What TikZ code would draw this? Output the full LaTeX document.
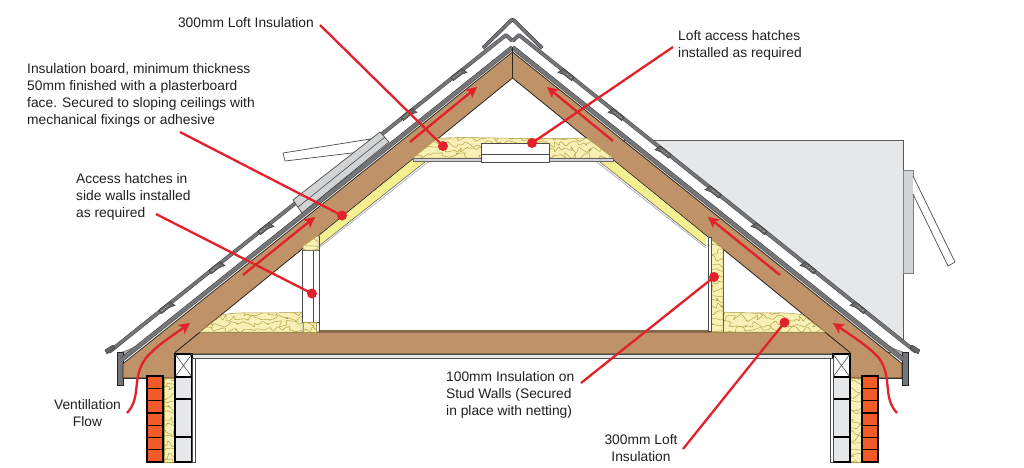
\documentclass[tikz,border=0pt]{standalone}
\usepackage{fontspec}
\setmainfont{Liberation Sans}
\usetikzlibrary{arrows.meta,decorations.pathmorphing}
\definecolor{rafterbrown}{HTML}{BF9367}
\definecolor{woolyellow}{HTML}{F8F0B4}
\definecolor{woolline}{HTML}{AE9C42}
\definecolor{boardyellow}{HTML}{F5F08F}
\definecolor{slategrey}{HTML}{75767A}
\definecolor{gablegrey}{HTML}{E6E7E9}
\definecolor{lightgrey}{HTML}{D1D3D4}
\definecolor{brickorange}{HTML}{F15A29}
\definecolor{arrowred}{HTML}{E3212B}
\definecolor{inktext}{HTML}{231F20}
\newcommand{\woolfill}[5]{
  \fill[woolyellow] #1;
  \begin{scope}
    \clip #1;
    \foreach \rowy in {#4,...,#5}
      \draw[squiggle] (#2,\rowy*6) -- (#3,\rowy*6);
  \end{scope}
  \draw[woolline,line width=.5pt] #1;
}
\begin{document}
\begin{tikzpicture}[
      x=1pt, y=-1pt,
      timber/.style = {draw=black!85, line width=.8pt, fill=rafterbrown},
      squiggle/.style = {draw=woolline, line width=.45pt, decorate, rounded corners=1pt,
        decoration={random steps, segment length=3.6pt, amplitude=4pt}},
      tilelayer/.style = {draw=slategrey, line width=2.8pt, line join=round},
      tileedge/.style = {draw=black!75, line width=3.8pt, line join=round},
      batten/.style = {fill=black!60, draw=black!80, line width=.4pt},
      brick/.style = {draw=black, line width=1.3pt, fill=brickorange},
      block/.style = {draw=black, line width=1.3pt, fill=gablegrey},
      thinwall/.style = {draw=black!70, line width=.6pt, fill=white},
      note/.style = {text=inktext, inner sep=0pt, align=left, font=\fontsize{13.8}{17}\selectfont},
      dot/.style = {shape=circle, fill=arrowred, inner sep=0pt, minimum size=10pt},
      callout/.style = {draw=arrowred, line width=2.3pt},
      flow/.style = {draw=arrowred, line width=2.3pt, -{Stealth[length=11pt,width=11pt,inset=3pt]}}
    ]
      \useasboundingbox (0,0) rectangle (1024,467);
      \fill[white] (0,0) rectangle (1024,467);

      \draw[fill=gablegrey, draw=black!65, line width=.8pt] (620,145) -- (620,140) -- (903,140) -- (903,352) -- (885,352);
      \draw[fill=lightgrey, draw=black!50, line width=.6pt] (903,170) rectangle (913,273);
      \draw[fill=white, draw=black!70, line width=.7pt] (913,176) -- (955,262) -- (948,266) -- (913,194);

      \draw[timber] (175,354) -- (850,354) -- (850,352) -- (825,332) -- (200,332) -- (175,352) -- cycle;
      \draw[draw=black!70, line width=.7pt, fill=gablegrey] (192,354.5) rectangle (833,358);
      \fill[rafterbrown!70!black] (319,330) rectangle (708,332);

      \foreach \flip/\off in {1/0,-1/1025} {
        \begin{scope}[xshift=\off pt, xscale=\flip]
          \fill[white] (506,37) -- (512.5,42) -- (512.5,48) -- (122,360) -- (112,352) -- cycle;
          \draw[draw=black!60, fill=slategrey!60, line width=.5pt] (122,352) .. controls (140,347) and (155,333) .. (178,314) -- (122,359) -- cycle;
          \draw[fill=slategrey, draw=black!85, line width=.6pt] (117,352) rectangle (123,385);
          \draw[draw=black!85, line width=1.8pt] (123,378) -- (147,378);
          \draw[timber] (512.5,52) -- (123,363.6) -- (123,378) -- (175,378) -- (175,352.4) -- (512.5,78) -- cycle;
          \draw[draw=black!75, line width=4.6pt] (122,359.4) -- (512.5,47.4);
          \draw[draw=slategrey, line width=3.6pt] (122,359.4) -- (512.5,47.4);
          \draw[tileedge] (109,352) -- (506,35) -- (512.5,41);
          \draw[tilelayer] (109,352) -- (506,35) -- (512.5,41);
          \draw[batten] (105,350) -- (113,345) -- (115,348) -- (107,354) -- cycle;
          \foreach \bx in {165,215,264,310,360,407,457} {
            \pgfmathsetmacro{\by}{35+.798*(506-\bx)}
            \begin{scope}[shift={(\bx,\by)}, rotate=38.6]
              \draw[batten] (-7,-1.5) -- (7,-1.5) -- (9,5) -- (3,3) -- (-7,3) -- cycle;
              \draw[white, line width=.5pt, dash pattern=on 1pt off 1.5pt] (-5,.8) -- (5,.8);
            \end{scope}
          }
          \fill[boardyellow] (319,236) -- (424,150.5) -- (430,158) -- (319,246) -- cycle;
          \draw[draw=black!60, line width=.6pt] (319,246) -- (430,158);
          \draw[draw=black!35, line width=.6pt] (319,248) -- (432,159);
          \woolfill{(200,332) -- (222,315) .. controls (240,311) and (270,314) .. (302,312) -- (302,332) -- cycle}{195}{305}{52}{55}
          \fill[black!55] (162.5,376) rectangle (164,462);
          \woolfill{(164,378) rectangle (175,462)}{160}{178}{63}{77}
          \foreach \i in {0,...,6}
            \draw[brick] (147,{376+\i*12.3}) rectangle (163,{388.3+\i*12.3});
          \draw[block, fill=white] (175,354) rectangle (192,377);
          \draw[draw=black!70, line width=.6pt] (175,354) -- (192,377) (192,354) -- (175,377);
          \draw[block] (175,377) rectangle (192,399);
          \draw[block] (175,399) rectangle (192,437);
          \draw[block] (175,437) rectangle (192,462);
          \draw[thinwall] (192,358) rectangle (195,462);
        \end{scope}
      }

      \draw[fill=white, draw=black!70, line width=.7pt] (283,153) -- (370,139) -- (360,152) -- (285,161) -- cycle;
      \draw[fill=lightgrey, draw=black!70, line width=.7pt] (293,200) -- (380,132) -- (389,142) -- (302,213) -- cycle;
      \draw[draw=black!70, line width=.6pt] (298,207) -- (385,137);

      \draw[thinwall] (302,250) rectangle (319,322);
      \draw[draw=black!70, line width=.6pt] (313,250) -- (313,322);
      \woolfill{(303,250) -- (303,246) -- (318,235.5) -- (318,250) -- cycle}{300}{320}{39}{42}
      \draw[thinwall] (303,322) rectangle (316,332);
      \woolfill{(303,322) rectangle (316,332)}{300}{320}{53}{55}
      \draw[draw=black!70, line width=.7pt] (319,236) -- (319,332);

      \woolfill{(711,239) -- (723,249) -- (723,332) -- (711,332) -- cycle}{705}{727}{39}{55}
      \draw[thinwall] (708,237) rectangle (711,331);
      \draw[draw=rafterbrown!60!black, line width=.7pt] (723,249) -- (723,332);

      \woolfill{(413,158) -- (437,138.5) .. controls (470,136) and (520,140) .. (587,138) -- (613,158) -- cycle}{405}{620}{23}{27}
      \draw[draw=black!60, fill=lightgrey, line width=.5pt] (413,158.5) rectangle (613,161);
      \draw[thinwall] (481,143) rectangle (549,162);
      \draw[draw=black!70, line width=.6pt] (481,154) -- (549,154);

      \draw[draw=black!85, line width=.9pt] (512.5,47) -- (512.5,78);
      \draw[draw=black!85, line width=3.6pt, line join=round, rounded corners=2pt] (483,48) -- (512.5,19) -- (542,48);
      \draw[draw=slategrey, line width=2.6pt, line join=round, rounded corners=2pt] (483,48) -- (512.5,19) -- (542,48);

      \coordinate (flowa) at (243,275);
      \coordinate (flowah) at (315,217);
      \coordinate (flowb) at (410,142);
      \coordinate (flowbh) at (477,87);
      \coordinate (flowc) at (613,141);
      \coordinate (flowch) at (547,87);
      \coordinate (flowd) at (780,275);
      \coordinate (flowdh) at (708,217);
      \coordinate (eaveleft) at (127,413);
      \coordinate (eavelefth) at (190,323);
      \coordinate (eaveright) at (897,413);
      \coordinate (eaverighth) at (833,323);
      \draw[flow] (flowa) -- (flowah);
      \draw[flow] (flowb) -- (flowbh);
      \draw[flow] (flowc) -- (flowch);
      \draw[flow] (flowd) -- (flowdh);
      \draw[flow] (eaveleft) .. controls (142,397) and (131,378) .. (146,358) .. controls (156,346) and (172,336) .. (eavelefth);
      \draw[flow] (eaveright) .. controls (882,397) and (893,378) .. (879,358) .. controls (868,346) and (852,336) .. (eaverighth);

      \node[note, anchor=east] (loftnote) at (314,23) {300mm Loft Insulation};
      \node[note, anchor=west] (boardnote) at (27,95.5) {Insulation board, minimum thickness\\50mm finished with a plasterboard\\face. Secured to sloping ceilings with\\mechanical fixings or adhesive};
      \node[note, anchor=west] (sidenote) at (76,196.5) {Access hatches in\\side walls installed\\as required};
      \node[note, align=center] (ventnote) at (87.5,413) {Ventillation\\Flow};
      \node[note, anchor=west] (studnote) at (446,395) {100mm Insulation on\\Stud Walls (Secured\\in place with netting)};
      \node[note, align=center] (lowernote) at (641,448) {300mm Loft\\Insulation};
      \node[note, anchor=west] (accessnote) at (678,45.5) {Loft access hatches\\installed as required};

      \coordinate (loftfrom) at (320,25);
      \coordinate (boardfrom) at (180,132);
      \coordinate (sidefrom) at (156,214);
      \coordinate (studfrom) at (581,383);
      \coordinate (lowerfrom) at (683,449);
      \coordinate (accessfrom) at (673,47);
      \node[dot] (loftdot) at (443,146) {};
      \node[dot] (boarddot) at (342,215.5) {};
      \node[dot] (sidedot) at (312,293.5) {};
      \node[dot] (studdot) at (714,277) {};
      \node[dot] (lowerdot) at (784.5,322.5) {};
      \node[dot] (accessdot) at (532,143) {};
      \draw[callout] (loftfrom) -- (loftdot.center);
      \draw[callout] (boardfrom) -- (boarddot.center);
      \draw[callout] (sidefrom) -- (sidedot.center);
      \draw[callout] (studfrom) -- (studdot.center);
      \draw[callout] (lowerfrom) -- (lowerdot.center);
      \draw[callout] (accessfrom) -- (accessdot.center);
    \end{tikzpicture}
\end{document}
